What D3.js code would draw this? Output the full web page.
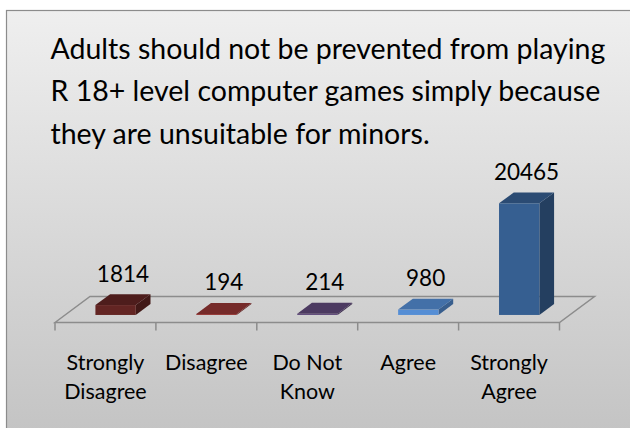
<!DOCTYPE html>
<html>
<head>
<meta charset="utf-8">
<script src="https://cdn.jsdelivr.net/npm/d3@7"></script>
<style>
  html, body { margin: 0; padding: 0; background: #fff; }
  svg { display: block; }
</style>
</head>
<body>
<div class="chart"></div>
<script>
var svgWidth = 630;
var svgHeight = 428;

// chart data
var categories = ["Strongly Disagree", "Disagree", "Do Not Know", "Agree", "Strongly Agree"];
var categoryLines = [["Strongly", "Disagree"], ["Disagree"], ["Do Not", "Know"], ["Agree"], ["Strongly", "Agree"]];
var responses = [1814, 194, 214, 980, 20465];
var barColors = ["#632523", "#953735", "#604a7b", "#558ed5", "#365f91"];
var titleLines = [
  "Adults should not be prevented from playing",
  "R 18+ level computer games simply because",
  "they are unsuitable for minors."
];

var fontFamily = "Lato, 'Open Sans', sans-serif";

// floor of the 3d plot
var floor = { left: 55, right: 559.5, front: 322.5, depthX: 35, depthY: -26 };
// bar sits between these fractions of the floor depth
var barFront = 0.29, barBack = 0.71;

var svg = d3.select(".chart")
  .append("svg")
  .attr("width", svgWidth)
  .attr("height", svgHeight);

var grad = svg.append("defs").append("linearGradient")
  .attr("id", "bg")
  .attr("x1", 0).attr("y1", 0).attr("x2", 0).attr("y2", 1);
grad.append("stop").attr("offset", "0%").attr("stop-color", "#efefef");
grad.append("stop").attr("offset", "100%").attr("stop-color", "#c2c2c2");

svg.append("rect")
  .attr("x", 6.5).attr("y", 10.5)
  .attr("width", 640).attr("height", 440)
  .attr("fill", "url(#bg)")
  .attr("stroke", "#8c8c8c")
  .attr("stroke-width", 1.2);

// title, sized to fill its width
var title = svg.append("g")
  .style("font-family", fontFamily)
  .style("fill", "#000");

title.selectAll("text")
  .data(titleLines)
  .join("text")
    .attr("x", 50.5)
    .attr("y", (d, i) => 58.5 + i * 42.5)
    .style("font-size", "28px")
    .text(d => d);

var widest = d3.max(title.selectAll("text").nodes(), n => n.getComputedTextLength());
title.selectAll("text").style("font-size", Math.min(28.5, 28 * 556 / widest) + "px");

// scales
var xScale = d3.scaleBand()
  .domain(categories)
  .range([floor.left, floor.right])
  .paddingInner(0)
  .paddingOuter(0);

var yScale = d3.scaleLinear()
  .domain([0, 25000])
  .range([floor.front + barFront * floor.depthY, floor.front + barFront * floor.depthY - 136.4]);

var barW = xScale.bandwidth() * 0.4;
var dX = (barBack - barFront) * floor.depthX;
var dY = (barBack - barFront) * floor.depthY;
var shiftX = barFront * floor.depthX;

// floor outline
var fl = floor;
var gFloor = svg.append("g")
  .attr("fill", "none")
  .attr("stroke", "#8c8c8c")
  .attr("stroke-width", 1.5);

gFloor.append("path")
  .attr("d", `M${fl.left},${fl.front} L${fl.left + fl.depthX},${fl.front + fl.depthY} L${fl.right + fl.depthX},${fl.front + fl.depthY} L${fl.right},${fl.front} Z`);

// category axis ticks
var ticks = categories.map(c => xScale(c)).concat([floor.right]);
gFloor.selectAll("line")
  .data(ticks)
  .join("line")
    .attr("x1", d => d).attr("x2", d => d)
    .attr("y1", fl.front).attr("y2", fl.front + 8);

// bars
var bars = svg.append("g")
  .selectAll("g")
  .data(responses)
  .join("g")
    .attr("class", "bar");

bars.each(function(v, i) {
  var g = d3.select(this);
  var x0 = xScale(categories[i]) + xScale.bandwidth() / 2 + shiftX - barW / 2;
  var x1 = x0 + barW;
  var yb = yScale(0);
  var yt = yScale(v);
  var base = d3.color(barColors[i]);

  // right side
  g.append("path")
    .attr("d", `M${x1},${yb} L${x1 + dX},${yb + dY} L${x1 + dX},${yt + dY} L${x1},${yt} Z`)
    .attr("fill", base.darker(1.15));
  // front
  g.append("rect")
    .attr("x", x0).attr("y", yt)
    .attr("width", barW).attr("height", Math.max(yb - yt, 0))
    .attr("fill", base);
  // top
  g.append("path")
    .attr("d", `M${x0},${yt} L${x1},${yt} L${x1 + dX},${yt + dY} L${x0 + dX},${yt + dY} Z`)
    .attr("fill", base.darker(0.66));
});

// value labels
svg.append("g")
  .style("font-family", fontFamily)
  .style("font-size", "22.5px")
  .attr("text-anchor", "middle")
  .selectAll("text")
  .data(responses)
  .join("text")
    .attr("x", (d, i) => xScale(categories[i]) + xScale.bandwidth() / 2 + shiftX + dX / 2)
    .attr("y", d => yScale(d) + dY - 12.5)
    .text(d => d);

// category labels
svg.append("g")
  .style("font-family", fontFamily)
  .style("font-size", "21.5px")
  .attr("text-anchor", "middle")
  .selectAll("text")
  .data(categoryLines)
  .join("text")
    .attr("x", (d, i) => xScale(categories[i]) + xScale.bandwidth() / 2)
    .attr("y", 369.5)
    .call(t => t.selectAll("tspan")
      .data((d, i) => d.map(line => ({ line: line, x: xScale(categories[i]) + xScale.bandwidth() / 2 })))
      .join("tspan")
        .attr("x", d => d.x)
        .attr("dy", (d, j) => j === 0 ? 0 : 29.7)
        .text(d => d.line));
</script>
</body>
</html>
